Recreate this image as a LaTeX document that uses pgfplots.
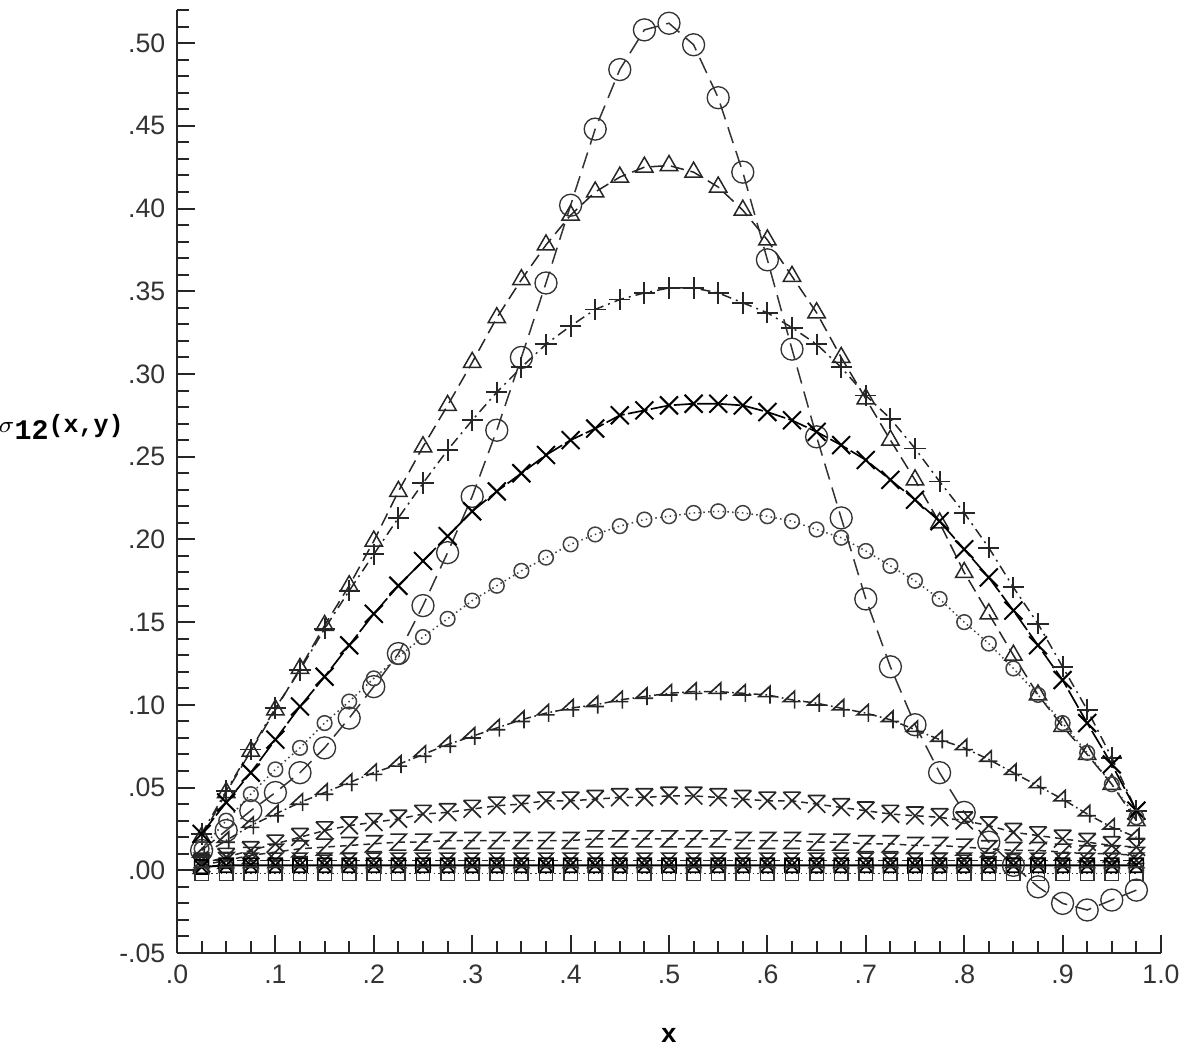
\documentclass[border=0pt]{standalone}
\usepackage{pgfplots}
\pgfplotsset{compat=1.18}
\usepackage{pgfplotstable}
\usepackage{fontspec}
\setmainfont{Liberation Sans}
\setmonofont{Liberation Mono}

\pgfdeclareplotmark{xbar}{%
  \pgfpathmoveto{\pgfqpoint{-\pgfplotmarksize}{\pgfplotmarksize}}%
  \pgfpathlineto{\pgfqpoint{\pgfplotmarksize}{\pgfplotmarksize}}%
  \pgfpathmoveto{\pgfqpoint{-\pgfplotmarksize}{\pgfplotmarksize}}%
  \pgfpathlineto{\pgfqpoint{\pgfplotmarksize}{-\pgfplotmarksize}}%
  \pgfpathmoveto{\pgfqpoint{\pgfplotmarksize}{\pgfplotmarksize}}%
  \pgfpathlineto{\pgfqpoint{-\pgfplotmarksize}{-\pgfplotmarksize}}%
  \pgfusepathqstroke}
\pgfdeclareplotmark{zmark}{%
  \pgfpathmoveto{\pgfqpoint{-\pgfplotmarksize}{\pgfplotmarksize}}%
  \pgfpathlineto{\pgfqpoint{\pgfplotmarksize}{\pgfplotmarksize}}%
  \pgfpathlineto{\pgfqpoint{-\pgfplotmarksize}{-\pgfplotmarksize}}%
  \pgfpathlineto{\pgfqpoint{\pgfplotmarksize}{-\pgfplotmarksize}}%
  \pgfusepathqstroke}
\pgfdeclareplotmark{four}{%
  \pgfpathmoveto{\pgfqpoint{0.3\pgfplotmarksize}{-\pgfplotmarksize}}%
  \pgfpathlineto{\pgfqpoint{0.3\pgfplotmarksize}{\pgfplotmarksize}}%
  \pgfpathlineto{\pgfqpoint{-\pgfplotmarksize}{-0.2\pgfplotmarksize}}%
  \pgfpathlineto{\pgfqpoint{\pgfplotmarksize}{-0.2\pgfplotmarksize}}%
  \pgfusepathqstroke}
\pgfdeclareplotmark{hourglass}{%
  \pgfpathmoveto{\pgfqpoint{-\pgfplotmarksize}{\pgfplotmarksize}}%
  \pgfpathlineto{\pgfqpoint{\pgfplotmarksize}{\pgfplotmarksize}}%
  \pgfpathlineto{\pgfqpoint{-\pgfplotmarksize}{-\pgfplotmarksize}}%
  \pgfpathlineto{\pgfqpoint{\pgfplotmarksize}{-\pgfplotmarksize}}%
  \pgfpathclose
  \pgfusepathqstroke}
\pgfdeclareplotmark{sqx}{%
  \pgfpathrectanglecorners{\pgfqpoint{-\pgfplotmarksize}{-\pgfplotmarksize}}{\pgfqpoint{\pgfplotmarksize}{\pgfplotmarksize}}%
  \pgfpathmoveto{\pgfqpoint{-\pgfplotmarksize}{-\pgfplotmarksize}}%
  \pgfpathlineto{\pgfqpoint{\pgfplotmarksize}{\pgfplotmarksize}}%
  \pgfpathmoveto{\pgfqpoint{-\pgfplotmarksize}{\pgfplotmarksize}}%
  \pgfpathlineto{\pgfqpoint{\pgfplotmarksize}{-\pgfplotmarksize}}%
  \pgfusepathqstroke}

\pgfplotstableread{
x     circ   tri    plus   cross  sc     flag   xbar   zz     n1     n2     n3
0.025 0.012  0.020  0.022  0.022  0.013  0.009  0.004  0.003  0.006  0.002  -0.002
0.050 0.024  0.047  0.048  0.041  0.030  0.018  0.008  0.006  0.006  0.003  -0.002
0.075 0.036  0.072  0.073  0.059  0.046  0.027  0.012  0.009  0.006  0.003  -0.002
0.100 0.047  0.097  0.098  0.079  0.061  0.034  0.016  0.011  0.006  0.003  -0.002
0.125 0.059  0.122  0.121  0.099  0.074  0.041  0.020  0.013  0.006  0.003  -0.002
0.150 0.074  0.148  0.146  0.117  0.089  0.047  0.024  0.014  0.006  0.003  -0.002
0.175 0.092  0.172  0.169  0.136  0.102  0.053  0.027  0.015  0.006  0.003  -0.002
0.200 0.111  0.199  0.191  0.155  0.116  0.059  0.029  0.016  0.006  0.003  -0.002
0.225 0.131  0.229  0.213  0.172  0.129  0.064  0.031  0.017  0.006  0.003  -0.002
0.250 0.160  0.256  0.234  0.187  0.141  0.070  0.034  0.017  0.006  0.003  -0.002
0.275 0.192  0.281  0.254  0.202  0.152  0.076  0.035  0.018  0.006  0.003  -0.002
0.300 0.226  0.307  0.272  0.217  0.163  0.081  0.037  0.018  0.006  0.003  -0.002
0.325 0.266  0.334  0.289  0.229  0.172  0.086  0.039  0.018  0.006  0.003  -0.002
0.350 0.310  0.357  0.304  0.240  0.181  0.091  0.040  0.018  0.006  0.003  -0.002
0.375 0.355  0.378  0.318  0.251  0.189  0.095  0.042  0.018  0.006  0.003  -0.002
0.400 0.402  0.396  0.329  0.260  0.197  0.098  0.042  0.018  0.006  0.003  -0.002
0.425 0.448  0.410  0.339  0.267  0.203  0.100  0.043  0.019  0.006  0.003  -0.002
0.450 0.484  0.419  0.345  0.275  0.208  0.103  0.044  0.019  0.006  0.003  -0.002
0.475 0.508  0.425  0.349  0.278  0.212  0.105  0.044  0.019  0.006  0.003  -0.002
0.500 0.512  0.426  0.352  0.281  0.214  0.107  0.045  0.019  0.006  0.003  -0.002
0.525 0.499  0.422  0.352  0.282  0.216  0.108  0.045  0.019  0.006  0.003  -0.002
0.550 0.467  0.413  0.349  0.282  0.217  0.108  0.044  0.019  0.006  0.003  -0.002
0.575 0.422  0.399  0.343  0.281  0.216  0.107  0.043  0.018  0.006  0.003  -0.002
0.600 0.369  0.381  0.337  0.277  0.214  0.106  0.042  0.018  0.006  0.003  -0.002
0.625 0.315  0.359  0.328  0.272  0.211  0.103  0.042  0.018  0.006  0.003  -0.002
0.650 0.262  0.337  0.318  0.265  0.206  0.101  0.040  0.017  0.006  0.003  -0.002
0.675 0.213  0.310  0.304  0.257  0.201  0.098  0.038  0.017  0.006  0.003  -0.002
0.700 0.164  0.285  0.287  0.248  0.193  0.095  0.036  0.016  0.006  0.003  -0.002
0.725 0.123  0.260  0.273  0.236  0.184  0.091  0.034  0.016  0.006  0.003  -0.002
0.750 0.088  0.236  0.255  0.224  0.175  0.085  0.033  0.015  0.006  0.003  -0.002
0.775 0.059  0.210  0.235  0.211  0.164  0.079  0.032  0.015  0.006  0.003  -0.002
0.800 0.035  0.180  0.216  0.194  0.150  0.074  0.030  0.014  0.006  0.003  -0.002
0.825 0.017  0.155  0.195  0.177  0.137  0.067  0.027  0.013  0.006  0.003  -0.002
0.850 0.003  0.130  0.171  0.157  0.122  0.059  0.023  0.012  0.006  0.003  -0.002
0.875 -0.010 0.106  0.149  0.136  0.106  0.051  0.021  0.012  0.006  0.003  -0.002
0.900 -0.020 0.087  0.123  0.115  0.089  0.043  0.019  0.011  0.006  0.003  -0.002
0.925 -0.024 0.070  0.097  0.089  0.071  0.034  0.017  0.010  0.006  0.003  -0.002
0.950 -0.018 0.052  0.068  0.064  0.052  0.026  0.015  0.010  0.006  0.003  -0.002
0.975 -0.012 0.030  0.036  0.036  0.032  0.020  0.014  0.009  0.006  0.003  -0.002
}\data

\begin{document}
\begin{tikzpicture}
\path[use as bounding box] (-53.1pt,-28.2pt) rectangle (303.6pt,285.9pt);
\begin{axis}[
  scale only axis, width=295.2pt, height=282.9pt,
  xmin=0, xmax=1.0, ymin=-0.05, ymax=0.52,
  axis x line*=bottom, axis y line*=left,
  axis line style={line width=0.7pt, black!85},
  tick align=inside,
  xtick={0,0.1,0.2,0.3,0.4,0.5,0.6,0.7,0.8,0.9,1.0},
  xticklabels={.0,.1,.2,.3,.4,.5,.6,.7,.8,.9,1.0},
  ytick={-0.05,0,0.05,0.1,0.15,0.2,0.25,0.3,0.35,0.4,0.45,0.5},
  yticklabels={-.05,.00,.05,.10,.15,.20,.25,.30,.35,.40,.45,.50},
  minor xtick={0.025,0.05,0.075,0.125,0.15,0.175,0.225,0.25,0.275,0.325,0.35,0.375,0.425,0.45,0.475,0.525,0.55,0.575,0.625,0.65,0.675,0.725,0.75,0.775,0.825,0.85,0.875,0.925,0.95,0.975},
  minor ytick={-0.04,-0.03,-0.02,-0.01,0.01,0.02,0.03,0.04,0.06,0.07,0.08,0.09,0.11,0.12,0.13,0.14,0.16,0.17,0.18,0.19,0.21,0.22,0.23,0.24,0.26,0.27,0.28,0.29,0.31,0.32,0.33,0.34,0.36,0.37,0.38,0.39,0.41,0.42,0.43,0.44,0.46,0.47,0.48,0.49,0.51,0.52},
  major tick length=5.5pt, minor tick length=3.5pt,
  every tick/.style={line width=0.6pt, black!85},
  tick label style={font=\fontsize{8}{9}\selectfont, text=black!80},
  every axis y label/.style={at={(axis description cs:0,0.558)}, anchor=center, xshift=-34.8pt},
  every axis x label/.style={at={(axis description cs:0.5,0)}, anchor=center, yshift=-24.6pt},
  ylabel={\fontsize{7.5}{8}\selectfont$\sigma$\raisebox{-0.5ex}{\ttfamily\bfseries\fontsize{8.5}{9}\selectfont 12}{\ttfamily\bfseries(x,y)}},
  xlabel={\ttfamily\bfseries\fontsize{8}{9}\selectfont x},
  clip=false,
]
\addplot[black!80, line width=0.45pt, dash pattern=on 5pt off 2.5pt, mark=o, mark size=3.3pt, mark options={solid, line width=0.4pt}] table[x=x,y=circ]{\data};
\addplot[black!85, line width=0.45pt, dash pattern=on 4pt off 2pt, mark=triangle, mark size=3pt, mark options={solid}] table[x=x,y=tri]{\data};
\addplot[black!85, line width=0.45pt, dash pattern=on 3pt off 1.5pt on 0.6pt off 1.5pt, mark=+, mark size=3.2pt, mark options={solid, line width=0.55pt}] table[x=x,y=plus]{\data};
\addplot[black, line width=0.5pt, dash pattern=on 6pt off 1pt, mark=x, mark size=3.8pt, mark options={solid, line width=0.6pt}] table[x=x,y=cross]{\data};
\addplot[black!75, line width=0.45pt, densely dotted, mark=o, mark size=2.2pt, mark options={solid}] table[x=x,y=sc]{\data};
\addplot[black!85, line width=0.45pt, dash pattern=on 2.5pt off 1pt on 0.5pt off 1pt, mark=four, mark size=2.6pt, mark options={solid, line width=0.5pt}] table[x=x,y=flag]{\data};
\addplot[black!85, line width=0.45pt, dash pattern=on 2pt off 1.5pt, mark=xbar, mark size=2.6pt, mark options={solid, line width=0.5pt}] table[x=x,y=xbar]{\data};
\addplot[black!85, line width=0.45pt, dash pattern=on 2pt off 1.5pt, mark=zmark, mark size=2.4pt, mark options={solid, line width=0.5pt}] table[x=x,y=zz]{\data};
\addplot[black!85, line width=0.45pt, dash pattern=on 2pt off 1.5pt, mark=hourglass, mark size=2.2pt, mark options={solid}] table[x=x,y=n1]{\data};
\addplot[black, line width=0.6pt, mark=sqx, mark size=2.1pt, mark options={solid, line width=0.5pt}] table[x=x,y=n2]{\data};
\addplot[black!80, line width=0.45pt, densely dotted, mark=square, mark size=2pt, mark options={solid}] table[x=x,y=n3]{\data};
\end{axis}
\end{tikzpicture}
\end{document}
